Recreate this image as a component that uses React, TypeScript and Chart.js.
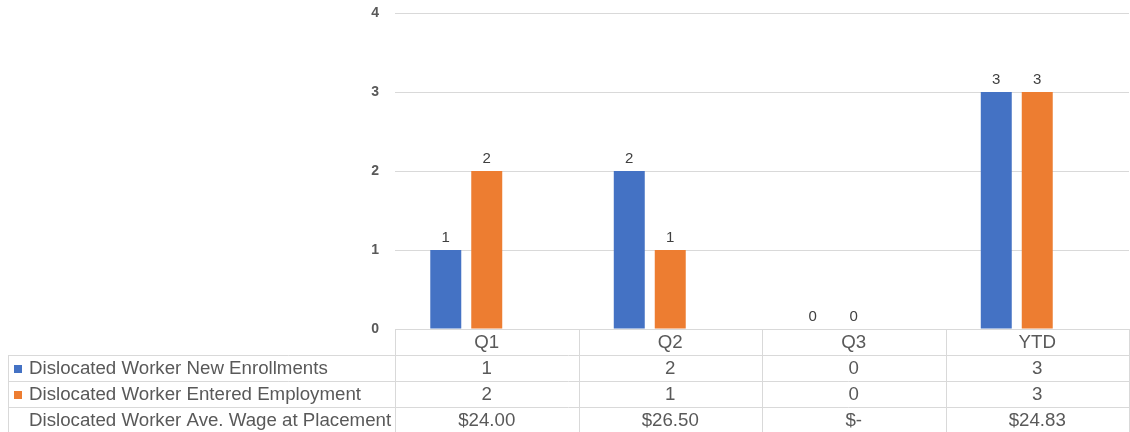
import React, { useEffect, useRef } from "react";
import { Chart, registerables } from "chart.js";

Chart.register(...registerables);

const categories = ["Q1", "Q2", "Q3", "YTD"];
const enrollLabel = "Dislocated Worker New Enrollments";
const enrollValues = [1, 2, 0, 3];
const employLabel = "Dislocated Worker Entered Employment";
const employValues = [2, 1, 0, 3];
const wageLabel = "Dislocated Worker Ave. Wage at Placement";
const wageValues = [24.0, 26.5, 0, 24.83];
const yTicks = [0, 1, 2, 3, 4];

const BLUE = "#4472C4";
const ORANGE = "#ED7D31";
const GRID = "#d9d9d9";
const TEXT = "#595959";
const FONT = "Arial, 'Liberation Sans', sans-serif";

const fmtWage = (v: number) => (v === 0 ? "$-" : "$" + v.toFixed(2));

const labelsPlugin = {
  id: "barLabels",
  afterDatasetsDraw(chart: any) {
    const ctx = chart.ctx;
    ctx.save();
    ctx.font = `15px ${FONT}`;
    ctx.fillStyle = "#404040";
    ctx.textAlign = "center";
    ctx.textBaseline = "alphabetic";
    [0, 1].forEach((di) => {
      const meta = chart.getDatasetMeta(di);
      meta.data.forEach((bar: any, i: number) => {
        const v = chart.data.datasets[di].data[i];
        if (v === null || v === undefined) return;
        ctx.fillText(String(v), bar.x, bar.y - 8);
      });
    });
    ctx.restore();
  },
};

const tablePlugin = {
  id: "dataTable",
  afterDraw(chart: any) {
    const ctx = chart.ctx;
    const area = chart.chartArea;
    const left = area.left;
    const right = area.right;
    const top = area.bottom;
    const rowH = 26;
    const tableLeft = 8;
    const n = categories.length;
    const colW = (right - left) / n;
    const bottom = top + rowH * 4 + 4;
    const px = (v: number) => Math.round(v) + 0.5;

    ctx.save();
    ctx.strokeStyle = GRID;
    ctx.lineWidth = 1;
    ctx.beginPath();
    ctx.moveTo(left, px(top));
    ctx.lineTo(right, px(top));
    for (let r = 1; r <= 3; r++) {
      const y = px(top + r * rowH);
      ctx.moveTo(tableLeft, y);
      ctx.lineTo(right, y);
    }
    for (let c = 0; c <= n; c++) {
      const x = px(left + c * colW);
      ctx.moveTo(x, top);
      ctx.lineTo(x, bottom);
    }
    ctx.moveTo(px(tableLeft), top + rowH);
    ctx.lineTo(px(tableLeft), bottom);
    ctx.stroke();

    ctx.font = `18.7px ${FONT}`;
    ctx.fillStyle = TEXT;
    ctx.textBaseline = "middle";
    ctx.textAlign = "center";
    const rows: string[][] = [
      categories,
      enrollValues.map(String),
      employValues.map(String),
      wageValues.map(fmtWage),
    ];
    rows.forEach((row, r) => {
      const cy = top + r * rowH + rowH / 2 + 1;
      row.forEach((t, c) => {
        ctx.fillText(t, left + c * colW + colW / 2, cy);
      });
    });

    const heads = [
      { label: enrollLabel, color: BLUE },
      { label: employLabel, color: ORANGE },
      { label: wageLabel, color: null as string | null },
    ];
    ctx.textAlign = "left";
    heads.forEach((h, i) => {
      const cy = top + (i + 1) * rowH + rowH / 2 + 1;
      if (h.color) {
        ctx.fillStyle = h.color;
        ctx.fillRect(14, Math.round(cy - 4.5), 8, 8);
      }
      ctx.fillStyle = TEXT;
      ctx.fillText(h.label, 29, cy);
    });
    ctx.restore();
  },
};

export default function App() {
  const ref = useRef<HTMLCanvasElement | null>(null);
  useEffect(() => {
    if (!ref.current) return;
    const chart = new Chart(ref.current, {
      type: "bar",
      data: {
        labels: categories,
        datasets: [
          { label: enrollLabel, data: enrollValues, backgroundColor: BLUE, categoryPercentage: 0.67, barPercentage: 0.756 },
          { label: employLabel, data: employValues, backgroundColor: ORANGE, categoryPercentage: 0.67, barPercentage: 0.756 },
          { label: wageLabel, data: wageValues.map(() => null), backgroundColor: "rgba(0,0,0,0)", categoryPercentage: 0.67, barPercentage: 0.756 },
        ],
      },
      options: {
        animation: false,
        responsive: true,
        maintainAspectRatio: false,
        devicePixelRatio: 1,
        layout: { padding: { top: 13, bottom: 103, left: 0, right: 1 } },
        plugins: { legend: { display: false }, tooltip: { enabled: false } },
        scales: {
          x: { display: false },
          y: {
            min: yTicks[0],
            max: yTicks[yTicks.length - 1],
            afterBuildTicks: (s: any) => {
              s.ticks = yTicks.map((v) => ({ value: v }));
            },
            afterFit: (s: any) => {
              s.width = 395;
              s.paddingTop = 0;
              s.paddingBottom = 0;
            },
            grid: { color: GRID, drawTicks: false },
            border: { display: false },
            ticks: {
              padding: 16,
              color: TEXT,
              font: { family: FONT, size: 14, weight: "bold" },
            },
          },
        },
      },
      plugins: [labelsPlugin, tablePlugin],
    } as any);
    return () => chart.destroy();
  }, []);
  return (
    <div style={{ position: "fixed", left: 0, top: 0, width: 1130, height: 432, background: "#fff" }}>
      <canvas ref={ref} />
    </div>
  );
}
